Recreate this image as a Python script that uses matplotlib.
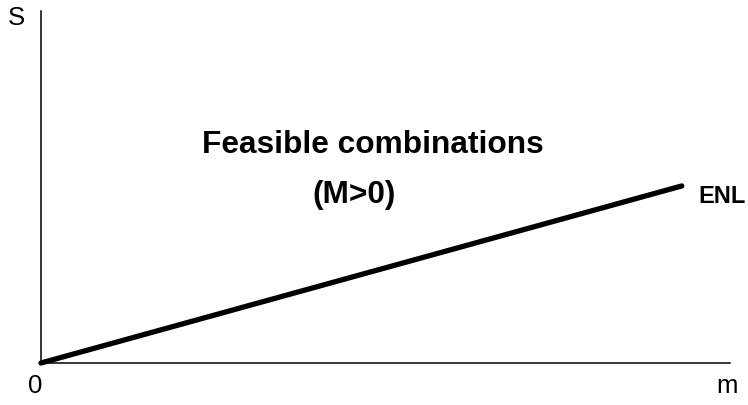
import matplotlib
matplotlib.use("Agg")
import matplotlib.pyplot as plt

plt.rcParams['font.family'] = ['Liberation Sans', 'DejaVu Sans']

# Data (normalized axis units)
m_vals = [0.0, 0.93]
s_vals = [0.0, 0.503]
line_label = "ENL"
x_label = "m"
y_label = "S"
origin_label = "0"
region_text = "Feasible combinations"
region_sub = "(M>0)"

W, H = 748, 406
fig = plt.figure(figsize=(W / 100, H / 100), dpi=100)
ax_l, ax_r, ax_t, ax_b = 41, 730, 12, 364
ax = fig.add_axes([ax_l / W, 1 - ax_b / H, (ax_r - ax_l) / W, (ax_b - ax_t) / H])
ax.set_xlim(0, 1)
ax.set_ylim(0, 1)
ax.spines['top'].set_visible(False)
ax.spines['right'].set_visible(False)
for sp in ('left', 'bottom'):
    ax.spines[sp].set_linewidth(1.1)
    ax.spines[sp].set_color('black')
ax.set_xticks([])
ax.set_yticks([])
ax.patch.set_alpha(0)

ax.plot(m_vals, s_vals, color='black', lw=3.8, solid_capstyle='round', clip_on=False)

def ftext(x, y, s, **kw):
    fig.text(x / W, 1 - y / H, s, **kw)

ftext(16, 18, y_label, fontsize=18.5, ha='center', va='center')
ftext(35, 386, origin_label, fontsize=18.5, ha='center', va='center')
ftext(727, 386, x_label, fontsize=18.5, ha='center', va='center')
ftext(372.5, 153, region_text, fontsize=22.8, fontweight='bold', ha='center', va='baseline')
ftext(354, 203, region_sub, fontsize=22.8, fontweight='bold', ha='center', va='baseline')
ftext(722, 203, line_label, fontsize=17, fontweight='bold', ha='center', va='baseline')

fig.savefig("out.png", dpi=100)
